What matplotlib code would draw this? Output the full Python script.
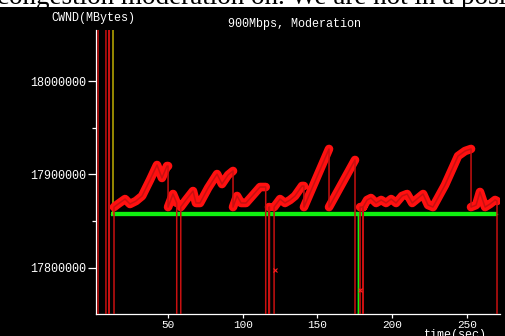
import numpy as np
import matplotlib
matplotlib.use("Agg")
import matplotlib.pyplot as plt

# congestion window trace (time in sec, cwnd in bytes); LOW/HIGH are off-scale excursions
LOW = 17600000
HIGH = 18200000
cwnd_t = [3.1, 3.1, 8.4, 8.4, 10.4, 10.4, 10.4, 13.8, 13.8, 16.5, 21.2, 24.5, 28.5,
          32.6, 37.9, 42.6, 45.9, 49.3, 50.0, 50.0, 53.3, 55.8, 55.8, 58.5, 58.5,
          62.0, 66.7, 68.7, 71.4, 76.8, 82.8, 86.1, 90.2, 93.5, 93.5, 96.2, 98.9,
          102.2, 106.9, 111.6, 115.4, 115.4, 117.6, 117.6, 117.9, 117.9, 121.0, 121.0,
          125.0, 128.3, 131.7, 135.0, 139.7, 141.0, 141.0, 157.8, 157.8, 175.2, 175.2,
          178.6, 178.6, 180.6, 180.6, 180.6, 183.3, 185.9, 189.3, 192.7, 196.0, 199.4,
          202.7, 206.7, 210.1, 213.5, 217.5, 220.8, 224.1, 227.4, 235.5, 244.2, 248.9,
          252.9, 252.9, 256.3, 258.9, 262.3, 265.6, 269.0, 270.3, 270.3]
cwnd_v = [LOW, HIGH, HIGH, LOW, LOW, HIGH, LOW, LOW, 17865000, 17868300, 17873600,
          17868300, 17871500, 17876900, 17894000, 17910100, 17896200, 17909000,
          17909000, 17865000, 17879000, 17869400, LOW, LOW, 17865000,
          17872600, 17882200, 17869400, 17869400, 17885400, 17900400, 17889700,
          17899400, 17903700, 17865000, 17876900, 17869400,
          17869400, 17877900, 17886500, 17886500, LOW, LOW, 17865000, 17865000, LOW,
          LOW, 17865000,
          17873600, 17869400, 17872600, 17876900, 17887600, 17887600, 17865000,
          17927300, 17865000, 17915500, LOW,
          LOW, 17865000, 17865000, LOW, 17865000, 17872600, 17874700, 17869400,
          17872600, 17869400, 17873600,
          17869400, 17876900, 17879000, 17869400, 17874700, 17879000, 17867200,
          17865000, 17888700, 17919700, 17925100,
          17927300, 17865000, 17867200, 17881200, 17865000, 17868300, 17872600,
          17871500, LOW]

# slow-start threshold and the short yellow segment at start
ssth_t = [12.0, 176.9, 176.9, 176.9, 270.3]
ssth_v = [17857500, 17857500, LOW, 17857500, 17857500]
init_t = [13.1, 13.1]
init_v = [HIGH, 17857500]

# stray samples below the window
stray_t = [121.8, 178.6]
stray_v = [17797500, 17776000]

yticks = [17800000, 17900000, 18000000]
yticklabels = ["17800000", "17900000", "18000000"]
yminor = [17850000, 17950000]
xticks = [50, 100, 150, 200, 250]
xticklabels = ["50", "100", "150", "200", "250"]


def visible_runs(t, v, lo=17800000, hi=18000000):
    # break the path at vertical jumps and drop off-scale points
    tt, vv = [t[0]], [v[0]]
    for i in range(1, len(t)):
        if t[i] == t[i - 1]:
            tt.append(np.nan)
            vv.append(np.nan)
        tt.append(t[i])
        vv.append(v[i])
    vv = np.array(vv, dtype=float)
    vv[(vv < lo) | (vv > hi)] = np.nan
    return tt, vv


band_t, band_v = visible_runs(cwnd_t, cwnd_v)
ssth_band_t, ssth_band_v = visible_runs(ssth_t, ssth_v)

mono = "Liberation Mono"
fig = plt.figure(figsize=(5.05, 3.36), dpi=100, facecolor="black")

# white strip at the top with the cut-off line of body text
top = fig.add_axes([0, 1 - 7 / 336, 1, 7 / 336])
top.set_xlim(0, 505)
top.set_ylim(7, 0)
top.axis("off")
top.add_patch(plt.Rectangle((0, 0), 505, 7, facecolor="white", edgecolor="none"))
top.text(-3, 4.5, "congestion moderation on. We are not in a posi",
         family="Liberation Serif", size=19.5, color="black", va="baseline", clip_on=True)

ax = fig.add_axes([96 / 505, 22 / 336, (500 - 96) / 505, (306 - 22) / 336])
ax.set_facecolor("black")

ax.plot(ssth_band_t, ssth_band_v, color="#10f010", lw=3.1, zorder=2, solid_capstyle="butt")
ax.plot(ssth_t, ssth_v, color="#10f010", lw=1.0, zorder=2)
ax.plot(init_t, init_v, color="#b0a000", lw=1.2, zorder=2)
ax.plot(band_t, band_v, color="#ff1010", lw=6.2, zorder=3, solid_joinstyle="round",
        solid_capstyle="round")
ax.plot(cwnd_t, cwnd_v, color="#c81010", lw=1.1, zorder=4)
ax.plot(stray_t, stray_v, "x", color="#ff2020", ms=3, mew=0.8, zorder=4)

ax.set_xlim(1.74, 272.3)
ax.set_ylim(17750400, 18054800)

for s in ["top", "right"]:
    ax.spines[s].set_visible(False)
for s in ["left", "bottom"]:
    ax.spines[s].set_color("white")
    ax.spines[s].set_linewidth(0.9)

ax.set_yticks(yticks)
ax.set_yticklabels(yticklabels)
ax.set_yticks(yminor, minor=True)
ax.set_xticks(xticks)
ax.set_xticklabels(xticklabels)
ax.tick_params(axis="y", which="major", length=5.8, width=0.9, color="white",
               labelcolor="white", labelsize=8.5, pad=1)
ax.tick_params(axis="y", which="minor", length=2.9, width=0.9, color="white")
ax.tick_params(axis="x", which="major", length=3, width=0.9, color="white",
               labelcolor="white", labelsize=8, pad=1)
for lab in ax.get_xticklabels() + ax.get_yticklabels():
    lab.set_family(mono)

fig.text(93.5 / 505, 1 - 17.5 / 336, "CWND(MBytes)", color="white", family=mono,
         size=8.5, ha="center", va="center")
fig.text(295 / 505, 1 - 24 / 336, "900Mbps, Moderation", color="white", family=mono,
         size=8.5, ha="center", va="center")
fig.text(455 / 505, 1 - 329 / 336, "time(sec)", color="white", family=mono,
         size=8.5, ha="center", va="top")

fig.savefig("out.png", dpi=100, facecolor="black")
